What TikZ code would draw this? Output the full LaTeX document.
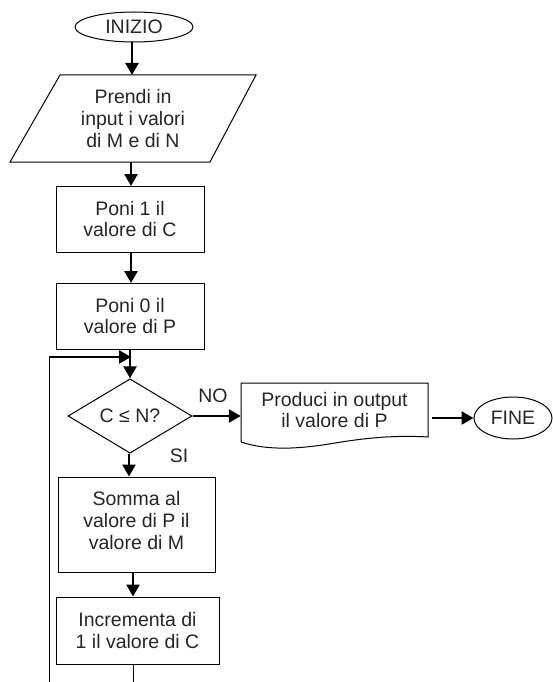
\documentclass[tikz,border=0pt]{standalone}
\usepackage{fontspec}
\setmainfont{Liberation Sans}
\usetikzlibrary{shapes.geometric,arrows.meta,calc}
\begin{document}
\begin{tikzpicture}[x=1pt,y=-1pt,
  every node/.style={font=\fontsize{19.5}{21.8}\selectfont, align=center, inner sep=0pt, text=black!85},
  procbox/.style={draw, line width=1pt, minimum width=#1},
  term/.style={draw, ellipse, line width=1pt},
  flow/.style={line width=2.6pt, -{Triangle[length=12pt,width=13pt]}},
  thinline/.style={line width=1pt},
  lbl/.style={font=\fontsize{19.5}{21.8}\selectfont}
]
\useasboundingbox (0,0) rectangle (552,682);

% terminals
\node[term, minimum width=118, minimum height=30] (start) at (134,27) {INIZIO};
\node[term, minimum width=78, minimum height=42] (fine) at (513,418) {FINE};

% input parallelogram
\node[minimum width=146, minimum height=87] (input) at (133,118.5) {Prendi in\\input i valori\\di M e di N};
\draw[thinline] (60,75) -- (256,75) -- (210,162) -- (10,162) -- cycle;

% process boxes
\node[procbox=148, minimum height=66] (p1) at (130,219) {Poni 1 il\\valore di C};
\node[procbox=148, minimum height=66] (p0) at (130,316) {Poni 0 il\\valore di P};
\node[diamond, draw, line width=1pt, minimum width=124, minimum height=70] (dec) at (130,416) {C ≤ N?};
\node[procbox=157, minimum height=95, text depth=8pt] (somma) at (136.5,524.5) {Somma al\\valore di P il\\valore di M};
\node[procbox=163, minimum height=67] (incr) at (137.5,630.5) {Incrementa di\\1 il valore di C};

% output (document shape)
\node[minimum width=187, minimum height=54] (out) at (334.5,410) {Produci in output\\il valore di P};
\draw[thinline] (241,442) -- (241,383) -- (428,383) -- (428,437)
  .. controls (395,435) and (365,438) .. (335,443)
  .. controls (300,449) and (268,451) .. (241,442);

% labels
\node[lbl] (no) at (213,396) {NO};
\node[lbl] (si) at (179,456) {SI};

% loop coordinates
\coordinate (bot1) at (133,682);
\coordinate (bot2) at (49,682);
\coordinate (ltop) at (49,357);
\coordinate (merge) at (131,357);

% connectors
\draw[flow] (start.south -| 132,0) -- (132,75);
\draw[flow] (input.south -| 131,0) -- (131,186);
\draw[flow] (p1.south -| 131,0) -- (131,283);
\draw[flow] (p0.south -| 130,0) -- (dec.north);
\draw[flow] (dec.south -| 129,0) -- (somma.north -| 129,0);
\draw[flow] (somma.south -| 133,0) -- (incr.north -| 133,0);
\draw[thinline] (incr.south -| 133,0) -- (bot1);
\draw[thinline] (bot2) -- (ltop);
\draw[flow] (ltop) -- (merge);
\draw[flow] (dec.east) -- (dec.east -| out.west);
\draw[flow] ($(out.east |- fine)+(4,0)$) -- (fine.west);
\end{tikzpicture}
\end{document}
